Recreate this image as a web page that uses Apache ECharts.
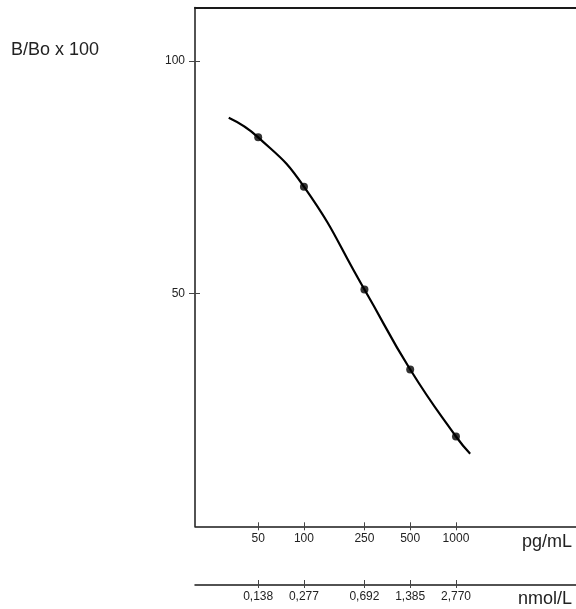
<!DOCTYPE html>
<html>
<head>
<meta charset="utf-8">
<script src="https://cdn.jsdelivr.net/npm/echarts@6/dist/echarts.min.js"></script>
<style>
  html, body { margin: 0; padding: 0; background: #fff; }
  #chart { width: 576px; height: 609px; }
</style>
</head>
<body>
<div id="chart"></div>
<script>
// standard points (pg/mL, B/Bo x 100)
const stdConc = [50, 100, 250, 500, 1000];
const stdValue = [83.6, 73.0, 50.9, 33.7, 19.3];
// fitted curve, including its two free ends
const curveConc = [32, 50, 100, 250, 500, 1000, 1240];
const curveValue = [87.8, 83.6, 73.0, 50.9, 33.7, 19.3, 15.6];
// tick labels
const pgTicks = [50, 100, 250, 500, 1000];
const nmolLabels = ['0,138', '0,277', '0,692', '1,385', '2,770'];
const yTicks = [50, 100];

const chart = echarts.init(document.getElementById('chart'));

const FONT = 'Liberation Sans, Arial, sans-serif';
const LINE = '#1a1a1a';
const TICK = '#444';
const xMin = 19.2, xMax = 6160;
const plotWidth = 576 - 195;

const baseX = {
  type: 'log',
  min: xMin,
  max: xMax,
  position: 'bottom',
  splitLine: { show: false },
  axisLine: { show: false },
  axisTick: { show: false },
  axisLabel: { show: false }
};

const tickIndex = v => pgTicks.findIndex(t => Math.abs(t - v) < 1e-6 * t);

const option = {
  animation: false,
  grid: { left: 195, right: 0, top: 7.5, bottom: 82.7 },
  xAxis: [
    Object.assign({}, baseX, {
      axisLine: { show: true, lineStyle: { color: LINE, width: 1.5 } },
      axisTick: { show: true, length: 4, customValues: pgTicks, lineStyle: { color: TICK, width: 1 } },
      axisLabel: {
        show: true, customValues: pgTicks, margin: 6,
        fontFamily: FONT, fontSize: 12, color: '#222',
        formatter: function (v) {
          const i = tickIndex(v);
          return i >= 0 ? String(pgTicks[i]) : '';
        }
      }
    }),
    Object.assign({}, baseX, {
      axisTick: { show: true, inside: true, length: 4, customValues: pgTicks, lineStyle: { color: TICK, width: 1 } }
    }),
    Object.assign({}, baseX, {
      offset: 58.7,
      axisLine: { show: true, lineStyle: { color: LINE, width: 1.5 } },
      axisTick: { show: true, length: 3, customValues: pgTicks, lineStyle: { color: TICK, width: 1 } },
      axisLabel: {
        show: true, customValues: pgTicks, margin: 6,
        fontFamily: FONT, fontSize: 12, color: '#222',
        formatter: function (v) {
          const i = tickIndex(v);
          return i >= 0 ? nmolLabels[i] : '';
        }
      }
    }),
    Object.assign({}, baseX, {
      offset: 58.7,
      axisTick: { show: true, inside: true, length: 5, customValues: pgTicks, lineStyle: { color: TICK, width: 1 } }
    }),
    Object.assign({}, baseX, {
      position: 'top',
      axisLine: { show: true, lineStyle: { color: LINE, width: 2 } }
    })
  ],
  yAxis: [
    {
      type: 'value',
      min: 0,
      max: 111.5,
      position: 'left',
      splitLine: { show: false },
      axisLine: { show: true, lineStyle: { color: LINE, width: 1.5 } },
      axisTick: { show: true, length: 6, customValues: yTicks, lineStyle: { color: TICK, width: 1 } },
      axisLabel: {
        customValues: yTicks, margin: 10,
        fontFamily: FONT, fontSize: 12, color: '#222'
      }
    },
    {
      // inner half of the crossing ticks on the left axis
      type: 'value',
      min: 0,
      max: 111.5,
      position: 'right',
      offset: -plotWidth,
      splitLine: { show: false },
      axisLine: { show: false },
      axisTick: { show: true, length: 5, customValues: yTicks, lineStyle: { color: TICK, width: 1 } },
      axisLabel: { show: false }
    }
  ],
  graphic: [
    {
      type: 'text', left: 11, top: 41,
      style: { text: 'B/Bo x 100', fontFamily: FONT, fontSize: 18, fill: '#222' }
    },
    {
      type: 'text', right: 4, top: 533,
      style: { text: 'pg/mL', fontFamily: FONT, fontSize: 18, fill: '#222' }
    },
    {
      type: 'text', right: 4, top: 590,
      style: { text: 'nmol/L', fontFamily: FONT, fontSize: 18, fill: '#222' }
    }
  ],
  series: [
    {
      type: 'line',
      xAxisIndex: 0,
      yAxisIndex: 0,
      data: curveConc.map((c, i) => [c, curveValue[i]]),
      smooth: 0.5,
      showSymbol: false,
      lineStyle: { color: '#000', width: 2.2 },
      z: 2
    },
    {
      type: 'scatter',
      xAxisIndex: 0,
      yAxisIndex: 0,
      data: stdConc.map((c, i) => [c, stdValue[i]]),
      symbol: 'circle',
      symbolSize: 8,
      itemStyle: { color: '#000' },
      z: 3
    }
  ]
};

chart.setOption(option);
</script>
</body>
</html>
